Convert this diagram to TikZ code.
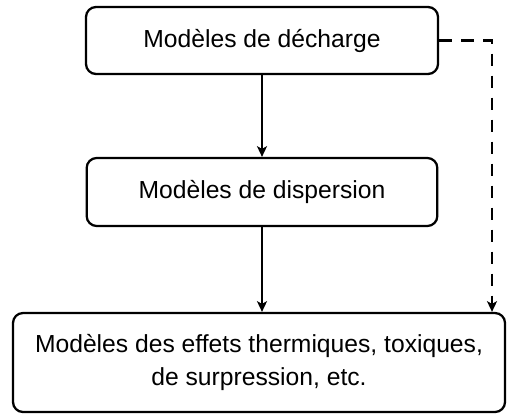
\documentclass[tikz,border=0pt]{standalone}
\usepackage{fontspec}
\setmainfont{Liberation Sans}
\usetikzlibrary{arrows.meta}

\tikzset{
  boite/.style={draw, line width=1.7pt, rounded corners=7.5pt, align=center,
    font=\fontsize{18.5}{24.75}\selectfont, inner sep=0pt},
  fleche/.style={line width=2pt, -{Stealth[length=8pt,width=7.5pt,inset=2pt]}},
  tirets/.style={fleche, dash pattern=on 9.5pt off 7pt}
}

\begin{document}
\begin{tikzpicture}[x=0.75pt,y=0.75pt,yscale=-1]
\useasboundingbox (0,0) rectangle (509,414);

% Boites
\node [boite, minimum width=264pt, minimum height=50.25pt] (dech) at (262,40.5) {Modèles de décharge};
\node [boite, minimum width=263pt, minimum height=51pt] (disp) at (262,192) {Modèles de dispersion};
\node [boite, minimum width=369pt, minimum height=74.25pt] (effets) at (259,362.5) {Modèles des effets thermiques, toxiques,\\de surpression, etc.};

% Fleches
\draw [fleche] (dech) -- (disp);
\draw [fleche] (disp) -- (disp |- effets.north);

% Lien direct
\coordinate (coude) at (492,40.5);
\draw [tirets] (dech.east) -- (coude) -- (coude |- effets.north);

\end{tikzpicture}
\end{document}
